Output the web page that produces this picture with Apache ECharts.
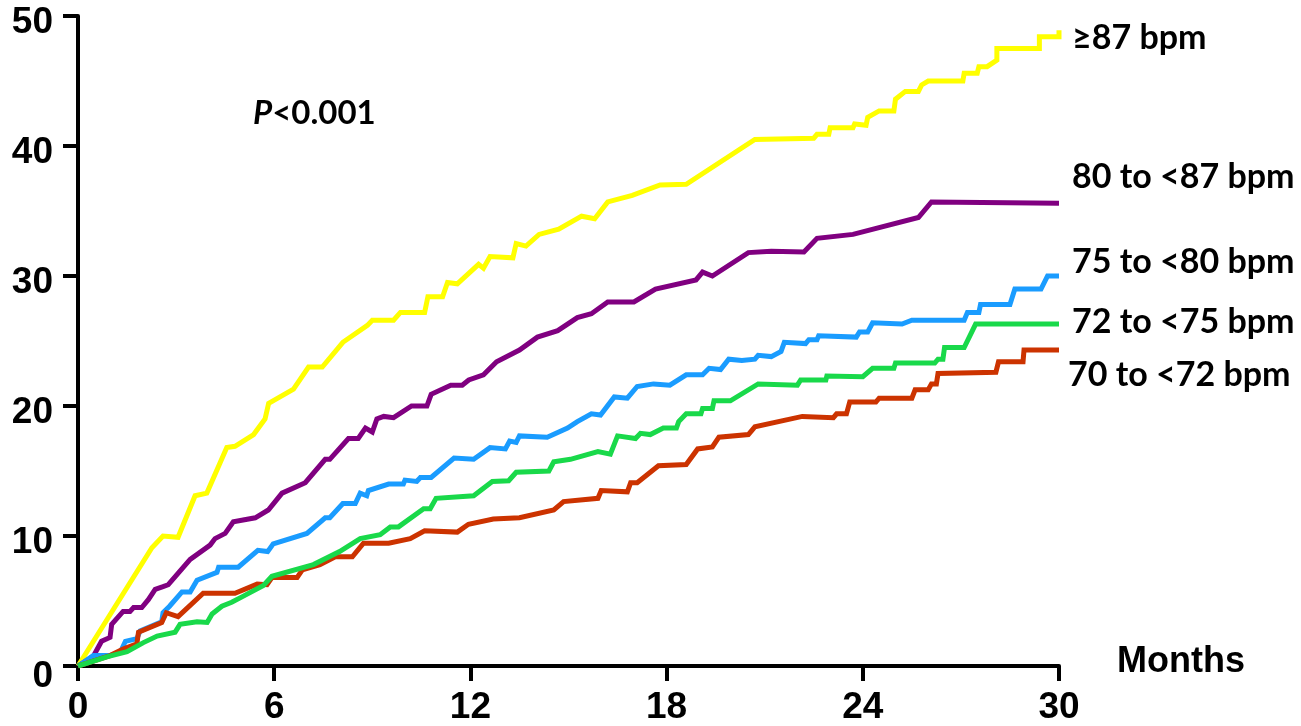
<!DOCTYPE html>
<html>
<head>
<meta charset="utf-8">
<script src="https://cdn.jsdelivr.net/npm/echarts@6/dist/echarts.min.js"></script>
<style>
  html, body { margin: 0; padding: 0; background: #fff; }
  #chart { width: 1301px; height: 726px; }
</style>
</head>
<body>
<div id="chart"></div>
<script>
// group names, in the order of the labels at the right
var groupNames = ['\u226587 bpm', '80 to <87 bpm', '75 to <80 bpm', '72 to <75 bpm', '70 to <72 bpm'];
var groupColors = ['#ffff00', '#800080', '#1a9cff', '#19d94a', '#cc3300'];

// [month, cumulative %]
var hr87 = [[0,0],[2.26,9.1],[2.6,10.0],[3.06,9.9],[3.58,13.1],[3.94,13.3],[4.55,16.8],[4.8,16.9],[5.37,17.8],[5.72,19.0],[5.83,20.2],[6.59,21.3],[7.05,23.0],[7.47,23.0],[8.1,24.9],[8.85,26.2],[9.0,26.6],[9.65,26.6],[9.86,27.2],[10.6,27.2],[10.7,28.4],[11.15,28.4],[11.3,29.5],[11.6,29.4],[12.25,30.9],[12.4,30.6],[12.6,31.5],[13.3,31.4],[13.4,32.5],[13.7,32.3],[14.1,33.2],[14.7,33.6],[15.4,34.6],[15.8,34.4],[16.2,35.7],[16.95,36.2],[17.8,37.0],[18.6,37.05],[20.7,40.5],[22.5,40.6],[22.6,40.9],[22.96,40.9],[23.0,41.4],[23.7,41.4],[23.75,41.7],[24.1,41.6],[24.15,42.2],[24.5,42.7],[24.95,42.7],[25.0,43.6],[25.3,44.2],[25.7,44.2],[25.8,44.7],[26.0,45.0],[27.06,45.0],[27.1,45.6],[27.5,45.6],[27.55,46.1],[27.8,46.1],[28.1,46.6],[28.1,47.5],[29.4,47.5],[29.4,48.4],[30,48.4],[30,48.9]];
var hr80 = [[0,0],[0.47,0.76],[0.72,1.9],[0.98,2.2],[1.03,3.2],[1.38,4.2],[1.59,4.2],[1.7,4.5],[1.95,4.5],[2.15,5.1],[2.36,5.9],[2.6,6.1],[2.76,6.25],[3.43,8.2],[4.04,9.3],[4.19,9.8],[4.5,10.2],[4.75,11.1],[5.42,11.4],[5.82,12.0],[6.24,13.3],[6.95,14.1],[7.56,15.9],[7.7,15.9],[8.27,17.5],[8.57,17.5],[8.79,18.3],[9.0,18.0],[9.14,19.0],[9.35,19.2],[9.65,19.1],[10.2,20.0],[10.67,20.0],[10.8,20.9],[11.4,21.6],[11.75,21.6],[11.95,22.0],[12.4,22.4],[12.8,23.4],[13.5,24.3],[14.05,25.3],[14.67,25.8],[15.27,26.8],[15.7,27.1],[16.2,28.0],[17.0,28.0],[17.66,29.0],[18.9,29.7],[19.1,30.3],[19.4,30.0],[20.5,31.8],[21.2,31.9],[22.2,31.85],[22.6,32.9],[23.7,33.2],[25.7,34.5],[26.1,35.7],[30,35.6]];
var hr75 = [[0,0],[0.47,0.8],[0.98,0.8],[1.3,1.1],[1.45,1.9],[1.8,2.1],[1.9,2.7],[2.56,3.4],[2.6,4.1],[2.8,4.6],[3.18,5.7],[3.43,5.7],[3.64,6.6],[4.25,7.2],[4.3,7.6],[4.9,7.6],[5.5,8.9],[5.8,8.8],[5.97,9.4],[7.0,10.2],[7.56,11.4],[7.7,11.4],[8.1,12.5],[8.48,12.5],[8.63,13.3],[8.83,13.1],[8.88,13.5],[9.5,14.0],[9.95,14.0],[10.0,14.3],[10.36,14.2],[10.47,14.5],[10.8,14.5],[11.5,16.0],[12.1,15.9],[12.6,16.8],[13.07,16.7],[13.2,17.3],[13.4,17.2],[13.5,17.7],[14.35,17.6],[14.97,18.3],[15.27,18.8],[15.7,19.4],[15.98,19.3],[16.4,20.7],[16.8,20.6],[17.1,21.5],[17.6,21.7],[18.1,21.6],[18.6,22.4],[19.1,22.4],[19.3,22.9],[19.65,22.8],[19.9,23.6],[20.3,23.5],[20.7,23.6],[20.8,23.9],[21.2,23.8],[21.5,24.2],[21.6,24.9],[22.25,24.8],[22.35,25.1],[22.6,25.1],[22.65,25.4],[23.8,25.3],[23.9,25.7],[24.15,25.7],[24.3,26.4],[25.2,26.3],[25.5,26.6],[27.1,26.6],[27.2,27.2],[27.55,27.2],[27.6,27.8],[28.5,27.8],[28.65,29.0],[29.45,29.0],[29.65,30.0],[30,30.0]];
var hr72 = [[0,0],[0.88,0.7],[1.5,1.1],[2.0,1.8],[2.42,2.3],[2.97,2.6],[3.12,3.2],[3.64,3.4],[3.95,3.35],[4.1,4.0],[4.4,4.6],[4.7,4.9],[5.0,5.3],[5.67,6.2],[5.93,6.9],[7.2,7.8],[8.0,8.8],[8.63,9.8],[9.24,10.1],[9.55,10.7],[9.8,10.7],[10.57,12.1],[10.77,12.1],[10.95,12.9],[12.1,13.1],[12.67,14.2],[13.17,14.25],[13.4,14.9],[14.4,15.0],[14.55,15.7],[15.06,15.9],[15.9,16.5],[16.28,16.3],[16.5,17.7],[17.05,17.5],[17.2,17.9],[17.5,17.8],[17.9,18.3],[18.3,18.3],[18.37,18.8],[18.6,19.4],[19.05,19.4],[19.1,19.8],[19.4,19.8],[19.45,20.4],[19.95,20.4],[20.8,21.7],[22.0,21.6],[22.1,22.0],[22.87,22.0],[22.9,22.3],[24.0,22.25],[24.3,22.9],[24.95,22.9],[25.0,23.3],[26.2,23.3],[26.3,23.6],[26.45,23.6],[26.5,24.5],[27.1,24.5],[27.45,26.3],[30,26.3]];
var hr70 = [[0,0],[0.98,0.8],[1.38,1.3],[1.8,1.7],[1.85,2.6],[2.56,3.35],[2.7,4.1],[3.06,3.8],[3.83,5.6],[4.8,5.6],[5.48,6.3],[5.78,6.25],[5.93,6.8],[6.7,6.8],[6.86,7.4],[7.4,7.8],[7.87,8.4],[8.39,8.4],[8.73,9.45],[9.5,9.45],[10.16,9.8],[10.6,10.4],[11.6,10.3],[11.94,10.9],[12.7,11.3],[13.5,11.4],[14.55,12.0],[14.85,12.65],[15.9,12.9],[16.0,13.5],[16.8,13.4],[16.9,14.1],[17.1,14.1],[17.75,15.4],[18.6,15.5],[18.95,16.7],[19.4,16.85],[19.6,17.6],[20.5,17.8],[20.7,18.4],[22.15,19.2],[23.1,19.1],[23.2,19.4],[23.5,19.4],[23.6,20.3],[24.4,20.3],[24.5,20.6],[25.5,20.6],[25.6,21.25],[26.0,21.25],[26.1,21.7],[26.25,21.7],[26.3,22.5],[28.07,22.6],[28.15,23.4],[28.9,23.4],[28.93,24.3],[30,24.3]];
var groupData = [hr87, hr80, hr75, hr72, hr70];

// drawing order: yellow, purple, blue, red, green on top
var drawOrder = [0, 1, 2, 4, 3];

// label placement at the right (left x, middle y in px)
var labelPos = [[1072, 38], [1072, 177], [1072, 262], [1072, 322], [1068, 375]];

var myChart = echarts.init(document.getElementById('chart'));

var series = drawOrder.map(function (i) {
    return {
        name: groupNames[i],
        type: 'line',
        data: groupData[i],
        showSymbol: false,
        silent: true,
        lineStyle: { color: groupColors[i], width: 5, join: 'miter' },
        z: 2
    };
});

var texts = groupNames.map(function (name, i) {
    return {
        type: 'text',
        x: labelPos[i][0],
        y: labelPos[i][1],
        style: {
            text: name,
            fill: '#000',
            font: 'bold 34px Lato, "Liberation Sans", sans-serif',
            verticalAlign: 'middle'
        }
    };
});
texts.push({
    type: 'text',
    x: 253,
    y: 113,
    style: {
        text: '{i|P}<0.001',
        fill: '#000',
        font: 'bold 33px Lato, "Liberation Sans", sans-serif',
        verticalAlign: 'middle',
        rich: {
            i: { fontStyle: 'italic', fontWeight: 'bold', fontSize: 33, fontFamily: 'Lato' }
        }
    }
});
texts.push({
    type: 'text',
    x: 1117,
    y: 662,
    style: {
        text: 'Months',
        fill: '#000',
        font: 'bold 36px "Liberation Sans", Arial, sans-serif',
        verticalAlign: 'middle'
    }
});

var tickFont = { color: '#000', fontSize: 37, fontWeight: 'bold', fontFamily: '"Liberation Sans", Arial, sans-serif' };

var option = {
    animation: false,
    backgroundColor: '#fff',
    grid: { left: 78, right: 242, top: 16, bottom: 54, containLabel: false },
    xAxis: {
        type: 'value',
        min: 0, max: 30, interval: 6,
        splitLine: { show: false },
        axisLine: { show: true, onZero: false, lineStyle: { color: '#000', width: 4 } },
        axisTick: { show: true, inside: false, length: 15, lineStyle: { color: '#000', width: 4 } },
        axisLabel: Object.assign({ margin: 23 }, tickFont)
    },
    yAxis: {
        type: 'value',
        min: 0, max: 50, interval: 10,
        splitLine: { show: false },
        axisLine: { show: true, onZero: false, lineStyle: { color: '#000', width: 4 } },
        axisTick: { show: true, inside: false, length: 15, lineStyle: { color: '#000', width: 4 } },
        axisLabel: Object.assign({
            margin: 25,
            formatter: function (v) { return v === 0 ? '{z|0}' : '{d|' + v + '}'; },
            rich: {
                d: Object.assign({ padding: [14, 0, 0, 0] }, tickFont),
                z: Object.assign({ padding: [22, 0, 0, 0] }, tickFont)
            }
        }, tickFont)
    },
    series: series,
    graphic: texts
};

myChart.setOption(option);
</script>
</body>
</html>
